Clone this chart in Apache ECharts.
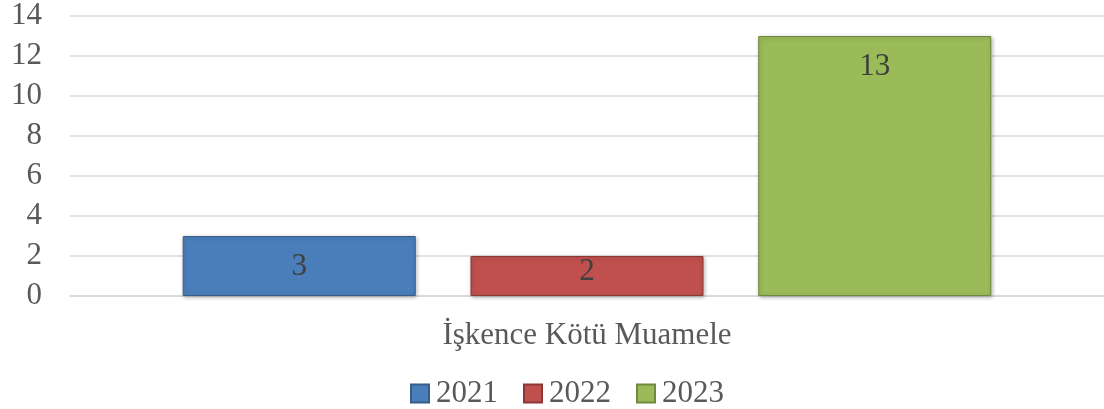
<!DOCTYPE html>
<html lang="tr">
<head>
    <meta charset="UTF-8">
    <title>İşkence Kötü Muamele</title>
    <style>
        html, body {
            margin: 0;
            padding: 0;
            background: #fff;
        }
        #chart {
            width: 1104px;
            height: 409px;
        }
    </style>
</head>
<body>
<div id="chart"></div>
<script src="https://cdn.jsdelivr.net/npm/echarts@6/dist/echarts.min.js"></script>
<script>
    var categories = ['İşkence Kötü Muamele'];
    var years = ['2021', '2022', '2023'];
    var values2021 = [3];
    var values2022 = [2];
    var values2023 = [13];
    var yTicks = [0, 2, 4, 6, 8, 10, 12, 14];

    var fillColors = ['#4a7ebb', '#c0504d', '#9bbb59'];
    var edgeColors = ['#385d8a', '#8c3836', '#71893f'];
    var font = '"Liberation Serif", "DejaVu Serif", serif';

    function barSeries(i, data, labelDistance) {
        return {
            name: years[i],
            type: 'bar',
            data: data,
            barWidth: 233,
            barGap: '23.5%',
            itemStyle: {
                color: fillColors[i],
                borderColor: edgeColors[i],
                borderWidth: 1,
                shadowBlur: 4,
                shadowColor: 'rgba(0,0,0,0.3)',
                shadowOffsetX: 1,
                shadowOffsetY: 1
            },
            label: {
                show: true,
                position: 'insideTop',
                distance: labelDistance,
                color: '#404040',
                fontFamily: font,
                fontSize: 31
            },
            emphasis: { disabled: true }
        };
    }

    var myChart = echarts.init(document.getElementById('chart'));
    var option = {
        animation: false,
        textStyle: { fontFamily: font },
        grid: {
            left: 70,
            width: 1049,
            top: 16,
            bottom: 113
        },
        legend: {
            data: years,
            bottom: -5,
            left: 405,
            itemWidth: 18,
            itemHeight: 18,
            itemGap: 25,
            icon: 'rect',
            textStyle: {
                color: '#595959',
                fontFamily: font,
                fontSize: 31,
                padding: [0, 0, 0, 2]
            }
        },
        xAxis: {
            type: 'category',
            data: categories,
            axisLine: { show: true, lineStyle: { color: '#d9d9d9', width: 1.5 } },
            axisTick: { show: false },
            axisLabel: {
                color: '#595959',
                fontFamily: font,
                fontSize: 31,
                margin: 24
            }
        },
        yAxis: {
            type: 'value',
            min: yTicks[0],
            max: yTicks[yTicks.length - 1],
            interval: 2,
            axisLine: { show: false },
            axisTick: { show: false },
            splitLine: { lineStyle: { color: '#d9d9d9', width: 1.5 } },
            axisLabel: {
                color: '#595959',
                fontFamily: font,
                fontSize: 31,
                margin: 28
            }
        },
        series: [
            barSeries(0, values2021, 15),
            barSeries(1, values2022, 0),
            barSeries(2, values2023, 15)
        ]
    };
    myChart.setOption(option);
</script>
</body>
</html>
